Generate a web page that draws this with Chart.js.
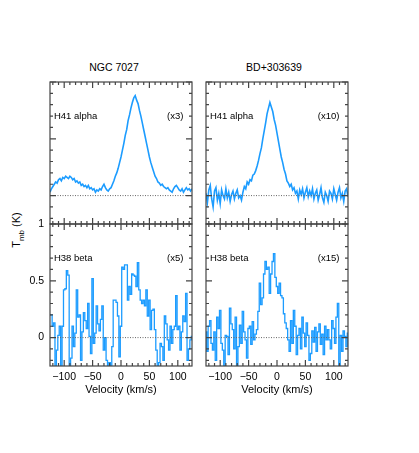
<!DOCTYPE html>
<html>
<head>
<meta charset="utf-8">
<script src="https://cdn.jsdelivr.net/npm/chart.js@4.4.0/dist/chart.umd.min.js"></script>
<style>
  body { margin: 0; background: #fff; }
  #wrap { position: relative; width: 419px; height: 453px; overflow: hidden;
          font-family: "Liberation Sans", Arial, sans-serif; color: #000; }
  #wrap canvas { position: absolute; left: 0; top: 0; }
  .title { position: absolute; top: 61px; font-size: 10.5px; line-height: 12px;
           transform: translateX(-50%); white-space: nowrap; }
  #ylab { position: absolute; left: 18px; top: 230px; font-size: 11px; white-space: nowrap;
          transform: translate(-50%, -50%) rotate(-90deg); }
  #ylab sub { font-size: 8px; }
</style>
</head>
<body>
<div id="wrap">
  <div class="title" style="left:114px">NGC 7027</div>
  <div class="title" style="left:274px">BD+303639</div>
  <div id="ylab">T<sub>mb</sub> (K)</div>
  <canvas id="c0" width="419" height="453"></canvas>
  <canvas id="c1" width="419" height="453"></canvas>
  <canvas id="c2" width="419" height="453"></canvas>
  <canvas id="c3" width="419" height="453"></canvas>
</div>
<script>
// channels: 2.5 km/s wide, from -125 to +125 km/s
var VEL_MIN = -125, VEL_MAX = 125, CHANNEL = 2.5;

// T_mb (K), already multiplied by the factor written in each panel
var ngcH41 = [
  0.03, 0.06, 0.08, 0.10, 0.12, 0.11, 0.14, 0.15, 0.13, 0.16,
  0.15, 0.17, 0.16, 0.15, 0.17, 0.16, 0.14, 0.15, 0.12, 0.13,
  0.11, 0.12, 0.09, 0.10, 0.08, 0.09, 0.07, 0.09, 0.06, 0.07,
  0.05, 0.06, 0.03, 0.05, 0.04, 0.06, 0.05, 0.08, 0.10, 0.07,
  0.05, 0.04, 0.06, 0.07, 0.10, 0.13, 0.17, 0.20, 0.24, 0.29,
  0.34, 0.40, 0.46, 0.53, 0.58, 0.66, 0.71, 0.77, 0.82, 0.86,
  0.88, 0.84, 0.81, 0.75, 0.70, 0.64, 0.58, 0.52, 0.46, 0.40,
  0.34, 0.29, 0.25, 0.21, 0.17, 0.15, 0.12, 0.11, 0.09, 0.10,
  0.08, 0.07, 0.06, 0.07, 0.05, 0.04, 0.03, 0.06, 0.08, 0.09,
  0.07, 0.05, 0.04, 0.06, 0.03, 0.05, 0.07, 0.05, 0.06, 0.04,
  0.06
];
var bdH41 = [
  0.02, -0.06, 0.05, 0.09, -0.03, -0.10, 0.04, 0.07, -0.04, 0.02,
  -0.07, 0.05, 0.00, -0.03, 0.06, -0.02, 0.03, -0.05, 0.01, 0.04,
  -0.03, 0.02, 0.05, -0.02, 0.00, -0.04, 0.03, 0.08, 0.06, 0.12,
  0.10, 0.14, 0.13, 0.18, 0.19, 0.22, 0.26, 0.31, 0.37, 0.42,
  0.50, 0.57, 0.64, 0.72, 0.77, 0.82, 0.78, 0.74, 0.67, 0.62,
  0.55, 0.48, 0.41, 0.34, 0.29, 0.23, 0.19, 0.13, 0.11, 0.08,
  0.10, 0.05, 0.07, 0.02, 0.04, -0.03, 0.05, 0.01, 0.06, -0.02,
  0.03, 0.07, -0.01, 0.04, 0.00, 0.06, -0.03, 0.02, 0.05, -0.04,
  0.01, 0.07, -0.02, -0.06, 0.03, 0.00, -0.05, 0.04, 0.02, -0.03,
  0.06, 0.01, -0.04, 0.03, 0.07, -0.02, 0.02, -0.05, 0.04, 0.06,
  -0.01
];
var ngcH38 = [
  0.20, 0.20, 0.10, 0.13, -0.30, -0.11, 0.02, 0.10, -0.32, 0.10,
  0.42, 0.43, 0.59, 0.55, -0.30, -0.18, 0.10, -0.08, 0.04, 0.42,
  0.18, 0.20, -0.20, 0.05, 0.22, 0.15, 0.08, 0.30, 0.01, -0.14,
  0.52, -0.05, 0.04, 0.28, 0.12, 0.06, 0.16, 0.28, -0.11, 0.00,
  -0.20, -0.30, -0.22, -0.30, -0.08, 0.33, 0.33, 0.31, 0.19, -0.17,
  0.10, 0.62, 0.60, 0.64, 0.64, 0.33, 0.45, 0.38, 0.56, 0.55,
  0.54, 0.45, 0.66, 0.42, 0.33, 0.30, 0.33, 0.28, 0.42, 0.19,
  0.33, 0.07, 0.24, 0.25, 0.07, -0.11, -0.30, -0.22, -0.05, -0.08,
  -0.20, 0.19, 0.12, -0.02, -0.11, 0.10, -0.05, 0.07, 0.10, 0.37,
  0.07, 0.10, -0.11, 0.05, 0.19, 0.14, 0.39, -0.20, -0.10, -0.02,
  0.01
];
var bdH38 = [
  0.05, -0.12, 0.10, 0.15, -0.05, -0.11, 0.05, -0.20, 0.18, 0.08,
  0.24, -0.05, -0.11, -0.25, 0.02, 0.01, -0.15, 0.26, 0.12, 0.07,
  -0.10, 0.18, -0.30, -0.08, 0.11, -0.05, 0.23, 0.05, -0.02, -0.18,
  0.08, 0.10, -0.06, 0.14, -0.02, 0.03, 0.07, 0.23, 0.48, 0.29,
  0.35, 0.56, 0.67, 0.60, 0.62, 0.39, 0.56, 0.67, 0.74, 0.53,
  0.45, 0.39, 0.48, 0.37, 0.35, 0.21, 0.13, 0.08, -0.02, -0.12,
  0.15, -0.05, 0.24, 0.10, -0.15, 0.02, 0.08, -0.10, 0.18, 0.04,
  -0.08, 0.13, 0.02, -0.20, -0.14, 0.06, -0.04, 0.09, -0.12, 0.05,
  0.12, -0.06, 0.03, -0.15, 0.10, -0.02, 0.07, -0.02, -0.10, 0.15,
  0.08, -0.05, 0.18, 0.30, -0.28, 0.02, -0.12, 0.06, 0.01, -0.08,
  0.04
];

var lineNames = ['H41 alpha', 'H38 beta'];
var factors = [['(x3)', '(x5)'], ['(x10)', '(x15)']];
var velTicks = [-100, -50, 0, 50, 100];
var tmbTicks = [0, 0.5, 1];

var BLUE = '#1c9cff';
var W = 419, H = 453;
var colLeft = [50, 206], rowTop = [82, 224], PANEL = 142;
var Y_AXIS_W = 40, X_AXIS_H = 31;
var FONT = '"Liberation Sans", Arial, sans-serif';

var velocity = [];
for (var v = VEL_MIN; v <= VEL_MAX + 1e-9; v += CHANNEL) velocity.push(v);

function minus(val) {
  return String(val).replace('-', '\u2212');
}

// box with inward ticks on all four sides, plus the line name and factor
var panelFrame = {
  id: 'panelFrame',
  afterDraw: function (chart, args, opts) {
    var ctx = chart.ctx, a = chart.chartArea;
    var x = chart.scales.x, y = chart.scales.y;
    ctx.save();
    ctx.strokeStyle = '#444';
    ctx.lineWidth = 1.2;
    ctx.strokeRect(a.left, a.top, a.right - a.left, a.bottom - a.top);
    ctx.beginPath();
    for (var t = -120; t <= 120; t += 10) {
      var px = x.getPixelForValue(t), lx = t % 50 === 0 ? 6 : 3;
      ctx.moveTo(px, a.bottom); ctx.lineTo(px, a.bottom - lx);
      ctx.moveTo(px, a.top); ctx.lineTo(px, a.top + lx);
    }
    for (var k = -2; k <= 10; k++) {
      var py = y.getPixelForValue(k / 10), ly = k % 5 === 0 ? 6 : 3;
      ctx.moveTo(a.left, py); ctx.lineTo(a.left + ly, py);
      ctx.moveTo(a.right, py); ctx.lineTo(a.right - ly, py);
    }
    ctx.stroke();

    ctx.fillStyle = '#000';
    ctx.font = '9.5px ' + FONT;
    ctx.textBaseline = 'middle';
    var ty = y.getPixelForValue(0.7);
    ctx.textAlign = 'left';
    ctx.fillText(opts.line, x.getPixelForValue(-118), ty);
    ctx.textAlign = 'right';
    ctx.fillText(opts.factor, x.getPixelForValue(110), ty);
    ctx.restore();
  }
};

function makePanel(id, series, col, row) {
  var left = colLeft[col], top = rowTop[row];
  var showX = row === 1, showY = col === 0 && row === 1;
  var points = velocity.map(function (v, i) { return { x: v, y: series[i] }; });

  return new Chart(document.getElementById(id), {
    type: 'line',
    data: {
      datasets: [{
        data: [{ x: VEL_MIN, y: 0 }, { x: VEL_MAX, y: 0 }],
        borderColor: '#666',
        borderWidth: 1,
        borderDash: [1, 1.5],
        pointRadius: 0
      }, {
        data: points,
        borderColor: BLUE,
        borderWidth: row === 0 ? 1.6 : 1.3,
        pointRadius: 0,
        stepped: row === 0 ? false : 'middle'
      }]
    },
    options: {
      responsive: false,
      animation: false,
      events: [],
      layout: {
        padding: {
          left: left - Y_AXIS_W,
          top: top,
          right: W - left - PANEL,
          bottom: H - top - PANEL - X_AXIS_H
        }
      },
      plugins: {
        legend: { display: false },
        tooltip: { enabled: false },
        panelFrame: { line: lineNames[row], factor: factors[col][row] }
      },
      scales: {
        x: {
          type: 'linear',
          min: VEL_MIN,
          max: VEL_MAX,
          afterFit: function (s) { s.height = X_AXIS_H; },
          afterBuildTicks: function (s) {
            s.ticks = velTicks.map(function (t) { return { value: t }; });
          },
          grid: { display: false, drawTicks: false },
          border: { display: false },
          ticks: {
            display: showX,
            padding: 5,
            color: '#000',
            font: { family: FONT, size: 10.5 },
            maxRotation: 0,
            callback: function (val) { return minus(val); }
          },
          title: {
            display: showX,
            text: 'Velocity (km/s)',
            padding: 0,
            color: '#000',
            font: { family: FONT, size: 11 }
          }
        },
        y: {
          min: -0.25,
          max: 1,
          afterFit: function (s) { s.width = Y_AXIS_W; },
          afterBuildTicks: function (s) {
            s.ticks = tmbTicks.map(function (t) { return { value: t }; });
          },
          grid: { display: false, drawTicks: false },
          border: { display: false },
          ticks: {
            display: showY,
            padding: 6,
            color: '#000',
            font: { family: FONT, size: 10.5 },
            callback: function (val) { return minus(val); }
          }
        }
      }
    },
    plugins: [panelFrame]
  });
}

makePanel('c0', ngcH41, 0, 0);
makePanel('c1', bdH41, 1, 0);
makePanel('c2', ngcH38, 0, 1);
makePanel('c3', bdH38, 1, 1);
</script>
</body>
</html>
